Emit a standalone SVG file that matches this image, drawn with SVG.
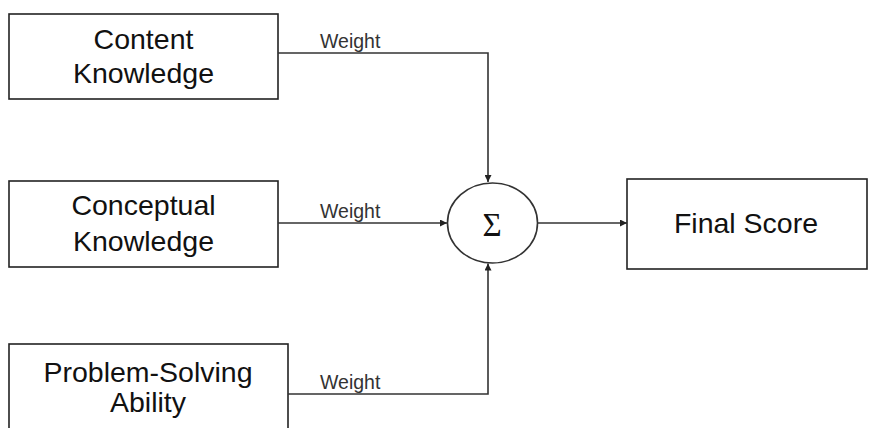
<svg xmlns="http://www.w3.org/2000/svg" width="875" height="428" viewBox="0 0 875 428">
<defs>
<style>
.box{fill:#fff;stroke:#222;stroke-width:1.6}
.lbl{font-family:"Liberation Sans",Arial,sans-serif;font-size:28.5px;fill:#111;text-anchor:middle}
.w{font-family:"Liberation Sans",Arial,sans-serif;font-size:19.5px;fill:#333}
.ln{fill:none;stroke:#333;stroke-width:1.6}
</style>
<marker id="ah" viewBox="0 0 10 10" refX="10" refY="5" markerWidth="9" markerHeight="7" markerUnits="userSpaceOnUse" orient="auto">
<path d="M0,0 L10,5 L0,10 z" fill="#222"/>
</marker>
</defs>
<rect width="875" height="428" fill="#fff"/>
<g id="content">
<rect class="box" x="9" y="14" width="269" height="85"/>
<text class="lbl" x="143.5" y="49">Content</text>
<text class="lbl" x="143.5" y="83">Knowledge</text>
</g>
<g id="conceptual">
<rect class="box" x="9" y="181" width="269" height="86"/>
<text class="lbl" x="143.5" y="215">Conceptual</text>
<text class="lbl" x="143.5" y="250.5">Knowledge</text>
</g>
<g id="problem">
<rect class="box" x="9" y="344" width="279" height="90"/>
<text class="lbl" x="148" y="381.5">Problem-Solving</text>
<text class="lbl" x="148" y="412">Ability</text>
</g>
<g id="sum">
<ellipse cx="492.5" cy="223" rx="45" ry="40" fill="#fff" stroke="#333" stroke-width="1.6"/>
<text x="492" y="236" font-family="'Liberation Serif','Times New Roman',serif" font-size="33" fill="#111" text-anchor="middle">Σ</text>
</g>
<g id="final">
<rect class="box" x="627" y="179" width="240" height="90"/>
<text class="lbl" x="746" y="233">Final Score</text>
</g>
<g id="connectors">
<polyline class="ln" points="278,53 488,53 488,182" marker-end="url(#ah)"/>
<line class="ln" x1="278" y1="223" x2="447" y2="223" marker-end="url(#ah)"/>
<polyline class="ln" points="288,394 488,394 488,263.5" marker-end="url(#ah)"/>
<line class="ln" x1="537.5" y1="223" x2="627" y2="223" marker-end="url(#ah)"/>
<text class="w" x="320" y="48.3">Weight</text>
<text class="w" x="320" y="218">Weight</text>
<text class="w" x="320" y="388.5">Weight</text>
</g>
</svg>
